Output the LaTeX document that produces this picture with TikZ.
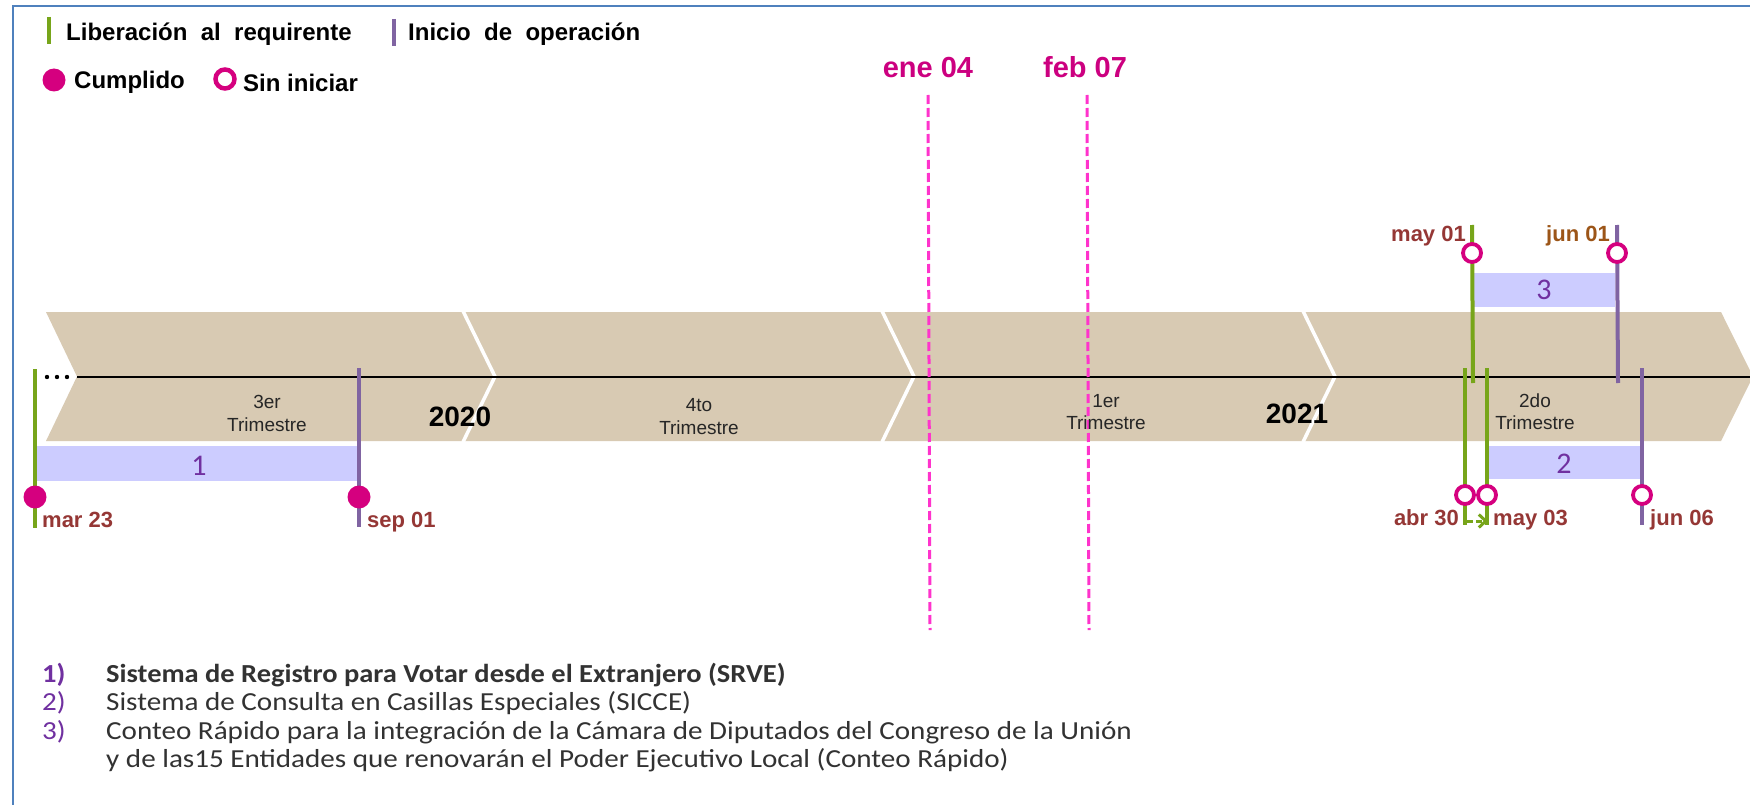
\documentclass[tikz,border=0pt]{standalone}
\usepackage{fontspec}
\setmainfont{Liberation Sans}
\newfontfamily\calibri{Carlito}
\newfontfamily\calibriw[FakeStretch=1.12]{Carlito}
\newfontfamily\calibrib[FakeStretch=1.095]{Carlito}
\usetikzlibrary{arrows.meta}
\definecolor{bandtan}{RGB}{216,202,179}
\definecolor{lgreen}{RGB}{119,165,26}
\definecolor{lpurple}{RGB}{128,100,162}
\definecolor{mag}{RGB}{213,0,127}
\definecolor{pinkd}{RGB}{255,51,204}
\definecolor{datered}{RGB}{149,55,53}
\definecolor{dateorange}{RGB}{156,85,24}
\definecolor{lav}{RGB}{204,204,255}
\definecolor{numpurple}{RGB}{112,48,160}
\definecolor{bordblue}{RGB}{79,129,189}
\definecolor{txtgray}{RGB}{50,50,50}
\definecolor{headmag}{RGB}{204,0,128}
\newcommand{\myfs}[1]{\fontsize{#1}{#1}\selectfont}
\begin{document}
\begin{tikzpicture}[x=1pt,y=-1pt,
  gline/.style={draw=lgreen,line width=4pt},
  pline/.style={draw=lpurple,line width=4pt},
  done/.style={circle,fill=mag,inner sep=0pt,minimum size=23pt},
  todo/.style={circle,draw=mag,fill=white,line width=3.8pt,inner sep=0pt,minimum size=18pt},
  datelbl/.style={font=\bfseries\myfs{22},text=datered,inner sep=0pt},
  barnum/.style={font=\calibri\myfs{30},text=numpurple,inner sep=0pt},
  trim/.style={font=\myfs{19},text=black!85,inner sep=0pt,anchor=base},
  yearlbl/.style={font=\bfseries\myfs{28},inner sep=0pt,anchor=base},
  lgd/.style={font=\bfseries\myfs{24},anchor=base west,inner sep=0pt},
  cutline/.style={draw=pinkd,line width=3pt,dash pattern=on 9pt off 4pt},
  cutlbl/.style={font=\bfseries\myfs{29},text=headmag,inner sep=0pt,anchor=base},
  note/.style={font=\calibriw\myfs{26},anchor=base west,inner sep=0pt,text=txtgray},
  notenum/.style={font=\calibriw\myfs{26},anchor=base west,inner sep=0pt,text=numpurple}
]
\useasboundingbox (0,0) rectangle (1750,805);
\fill[white] (0,0) rectangle (1750,805);
% frame
\draw[bordblue,line width=2.5pt] (13,805) -- (13,6) -- (1752,6);

% legend
\draw[gline,line width=3.5pt] (49,17) -- (49,44);
\node[lgd] (lg1) at (66,41) {Liberación~~al~~requirente};
\draw[pline,line width=3.5pt] (394,19) -- (394,46);
\node[lgd] (lg2) at (408,41) {Inicio~~de~~operación};
\node[done] (lgc1) at (54,80) {};
\node[lgd] (lg3) at (74,89) {Cumplido};
\node[todo,minimum size=19pt,line width=4.5pt] (lgc2) at (225,79) {};
\node[lgd] (lg4) at (243,92) {Sin iniciar};

% band
\fill[bandtan] (46,312) -- (1721,312) -- (1753,376.5) -- (1721,441) -- (46,441) -- (77,376.5) -- cycle;
\foreach \a in {463,882,1303}{
  \draw[white,line width=3.5pt] (\a,311) -- (\a+32,376.5) -- (\a,442);
}
\draw[line width=2pt] (77,377) -- (1752,377);
\foreach \d in {47,57,67}{ \fill (\d,377) circle (2.2); }

% bars
\fill[lav] (37,446) rectangle (359,481);
\fill[lav] (1488,446) rectangle (1640,479);
\fill[lav] (1474,273) rectangle (1615,307);
\node[barnum] (n1) at (199,466) {1};
\node[barnum] (n2) at (1564,464) {2};
\node[barnum] (n3) at (1544,290) {3};

% dashed cut lines
\coordinate (e1) at (928,95);
\coordinate (e2) at (930,630);
\coordinate (f1) at (1087,95);
\coordinate (f2) at (1089,630);
\draw[cutline] (e1) -- (e2);
\draw[cutline] (f1) -- (f2);
\node[cutlbl] (ene) at (928,78) {ene 04};
\node[cutlbl] (feb) at (1085,78) {feb 07};

% band texts
\node[trim] (t1a) at (267,408) {3er};
\node[trim] (t1b) at (267,431) {Trimestre};
\node[trim] (t2a) at (699,411) {4to};
\node[trim] (t2b) at (699,434) {Trimestre};
\node[trim] (t3a) at (1106,407) {1er};
\node[trim] (t3b) at (1106,429) {Trimestre};
\node[trim] (t4a) at (1535,407) {2do};
\node[trim] (t4b) at (1535,429) {Trimestre};
\node[yearlbl] (y20) at (460,426) {2020};
\node[yearlbl] (y21) at (1297,423) {2021};

% markers
\draw[gline] (35,369) -- (35,528);
\node[done] (c1) at (35,497) {};
\node[datelbl,anchor=base west] (d1) at (42,527) {mar 23};

\draw[pline] (359,368) -- (359,527);
\node[done] (c2) at (359,497) {};
\node[datelbl,anchor=base west] (d2) at (367,527) {sep 01};

\draw[gline] (1472,225) -- (1473,383);
\node[todo] (c3) at (1472,253) {};
\node[datelbl,anchor=base east] (d3) at (1466,241) {may 01};

\draw[pline] (1617,225) -- (1618,383);
\node[todo] (c4) at (1617,253) {};
\node[datelbl,anchor=base east,text=dateorange] (d4) at (1610,241) {jun 01};

\draw[gline] (1465,368) -- (1465,525);
\node[todo] (c5) at (1465,495) {};
\node[datelbl,anchor=base east] (d5) at (1459,525) {abr 30};

\draw[gline] (1487,368) -- (1487,525);
\node[todo] (c6) at (1487,495) {};
\node[datelbl,anchor=base west] (d6) at (1493,525) {may 03};

\draw[pline] (1642,368) -- (1642,525);
\node[todo] (c7) at (1642,495) {};
\node[datelbl,anchor=base west] (d7) at (1650,525) {jun 06};

\coordinate (ar1) at (1467,521);
\coordinate (ar2) at (1488,521);
\draw[lgreen,line width=3pt,dash pattern=on 6pt off 3pt,-{Straight Barb[length=7pt,width=13pt]}] (ar1) -- (ar2);

% bottom notes
\node[notenum,font=\calibrib\bfseries\myfs{26}] (b1n) at (42,682) {1)};
\node[note,font=\calibrib\bfseries\myfs{26}] (b1) at (106,682) {Sistema de Registro para Votar desde el Extranjero (SRVE)};
\node[notenum] (b2n) at (42,710.5) {2)};
\node[note] (b2) at (106,710.5) {Sistema de Consulta en Casillas Especiales (SICCE)};
\node[notenum] (b3n) at (42,739) {3)};
\node[note] (b3) at (106,739) {Conteo Rápido para la integración de la Cámara de Diputados del Congreso de la Unión};
\node[note] (b4) at (106,767.5) {y de las15 Entidades que renovarán el Poder Ejecutivo Local (Conteo Rápido)};
\end{tikzpicture}
\end{document}
